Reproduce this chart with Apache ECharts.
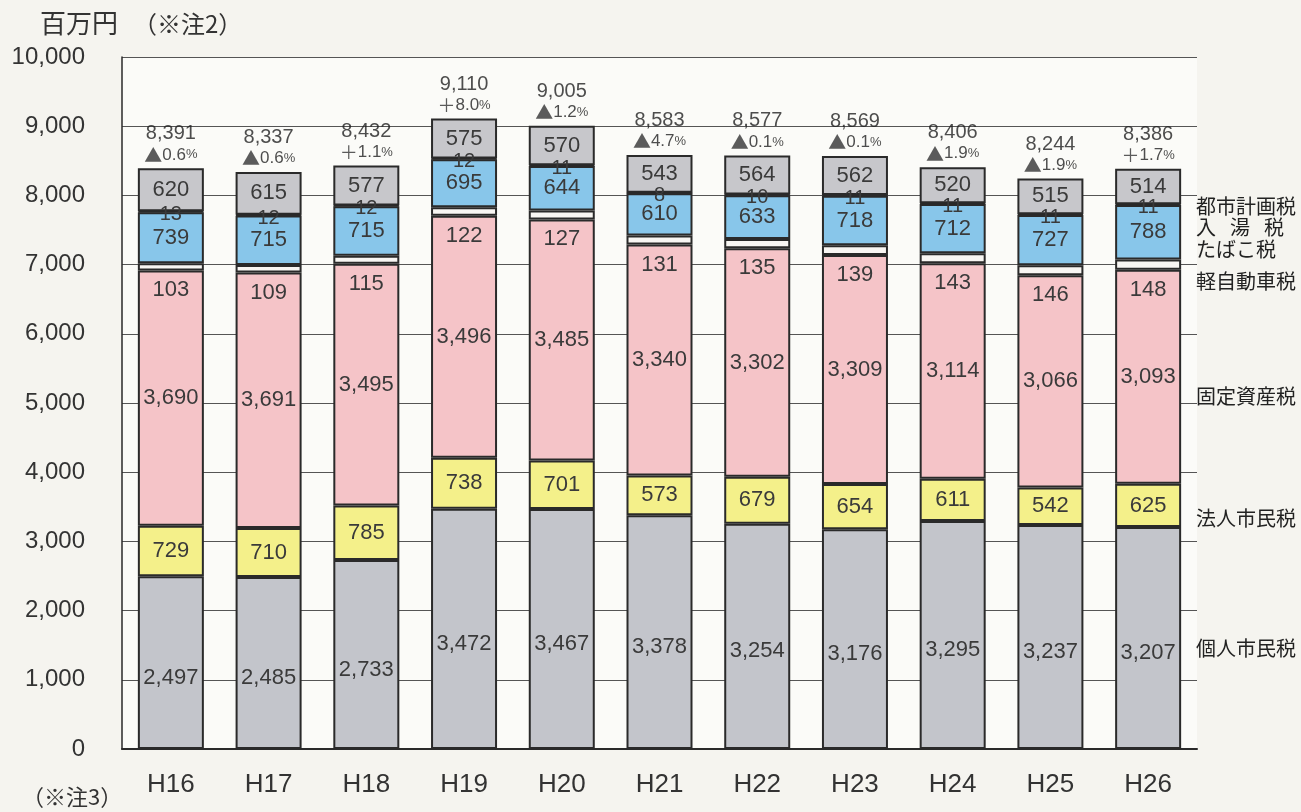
<!DOCTYPE html>
<html>
<head>
<meta charset="utf-8">
<script src="https://cdn.jsdelivr.net/npm/echarts@6/dist/echarts.min.js"></script>
<style>
html, body { margin: 0; padding: 0; background: #f5f4ef; }
#chart { width: 1301px; height: 812px; }
</style>
</head>
<body>
<div id="chart"></div>
<script>
// 年度
const years = ["H16", "H17", "H18", "H19", "H20", "H21", "H22", "H23", "H24", "H25", "H26"];
// 税目別（百万円）
const kojinShimin = [2497, 2485, 2733, 3472, 3467, 3378, 3254, 3176, 3295, 3237, 3207];
const hojinShimin = [729, 710, 785, 738, 701, 573, 679, 654, 611, 542, 625];
const koteiShisan = [3690, 3691, 3495, 3496, 3485, 3340, 3302, 3309, 3114, 3066, 3093];
const keiJidosha = [103, 109, 115, 122, 127, 131, 135, 139, 143, 146, 148];
const tabako = [739, 715, 715, 695, 644, 610, 633, 718, 712, 727, 788];
const nyuto = [13, 12, 12, 12, 11, 8, 10, 11, 11, 11, 11];
const toshiKeikaku = [620, 615, 577, 575, 570, 543, 564, 562, 520, 515, 514];
// 合計と前年比
const totals = [8391, 8337, 8432, 9110, 9005, 8583, 8577, 8569, 8406, 8244, 8386];
const changes = ["▲0.6", "▲0.6", "＋1.1", "＋8.0", "▲1.2", "▲4.7", "▲0.1", "▲0.1", "▲1.9", "▲1.9", "＋1.7"];
// 目盛り
const yTicks = [0, 1000, 2000, 3000, 4000, 5000, 6000, 7000, 8000, 9000, 10000];

const numFont = "Liberation Sans";
const jpFont = "Noto Sans CJK JP";
const fmt = (v) => Number(v).toLocaleString("en-US");

function seg(name, data, color, label) {
  return {
    name: name,
    type: "bar",
    stack: "tax",
    barWidth: 66,
    data: data,
    itemStyle: { color: color, borderColor: "#2a2a2a", borderWidth: 2 },
    label: Object.assign({
      show: true,
      position: "inside",
      color: "#3a3a3a",
      fontFamily: numFont,
      fontSize: 22,
      formatter: (p) => fmt(p.value),
    }, label || {}),
  };
}

// 右側の税目名
function sideLabel(text, top) {
  return { type: "text", left: 1196, top: top, style: { text: text, font: "20px '" + jpFont + "'", fill: "#222" } };
}

const chart = echarts.init(document.getElementById("chart"));
const option = {
  backgroundColor: "#f5f4ef",
  animation: false,
  grid: {
    left: 122, right: 104, top: 57, bottom: 63,
    show: true, backgroundColor: "#fbfbf8", borderWidth: 0,
  },
  xAxis: {
    type: "category",
    data: years,
    axisLine: { lineStyle: { color: "#2a2a2a", width: 2 } },
    axisTick: { inside: true, length: 6, lineStyle: { color: "#444" } },
    axisLabel: { color: "#333", fontSize: 26, fontFamily: numFont, margin: 23 },
  },
  yAxis: {
    type: "value",
    min: yTicks[0],
    max: yTicks[yTicks.length - 1],
    interval: yTicks[1] - yTicks[0],
    axisLine: { show: true, lineStyle: { color: "#2a2a2a", width: 1.5 } },
    axisTick: { show: false },
    axisLabel: { color: "#333", fontSize: 24, fontFamily: numFont, margin: 37, formatter: fmt },
    splitLine: { show: true, lineStyle: { color: "#555", width: 1.2 } },
  },
  series: [
    seg("個人市民税", kojinShimin, "#c3c5cb", { offset: [0, 15] }),
    seg("法人市民税", hojinShimin, "#f4f08a"),
    seg("固定資産税", koteiShisan, "#f5c4c8"),
    seg("軽自動車税", keiJidosha, "#f8f6f3", { position: "bottom", distance: 9 }),
    seg("たばこ税", tabako, "#88c6ea"),
    seg("入湯税", nyuto, "#333", { fontSize: 20, offset: [0, 3] }),
    seg("都市計画税", toshiKeikaku, "#c7c7cb"),
    {
      name: "合計",
      type: "scatter",
      data: totals,
      symbolSize: 1,
      itemStyle: { color: "transparent" },
      z: 10,
      label: {
        show: true,
        position: "top",
        distance: 3,
        formatter: (p) => {
          const c = changes[p.dataIndex];
          return "{t|" + fmt(p.value) + "}\n{s|" + c.charAt(0) + "}{v|" + c.slice(1) + "}{pc|%}";
        },
        rich: {
          t: { fontFamily: numFont, fontSize: 20, color: "#222", lineHeight: 22, align: "center" },
          s: { fontFamily: jpFont, fontSize: 18, color: "#333", lineHeight: 20 },
          v: { fontFamily: numFont, fontSize: 17, color: "#222", lineHeight: 20 },
          pc: { fontFamily: numFont, fontSize: 13, color: "#222", lineHeight: 20 },
        },
      },
    },
  ],
  graphic: [
    { type: "text", left: 40, top: 10, style: { text: "百万円", font: "26px '" + jpFont + "'", fill: "#333" } },
    { type: "text", left: 133, top: 12, style: { text: "（※注2）", font: "24px '" + jpFont + "'", fill: "#333" } },
    { type: "text", left: 22, top: 786, style: { text: "（※注3）", font: "22px '" + jpFont + "'", fill: "#333" } },
    sideLabel("都市計画税", 196),
    {
      type: "text", left: 1196, top: 217,
      style: {
        text: "{c|入}{g|\u3000}{c|湯}{g|\u3000}{c|税}",
        rich: {
          c: { fontFamily: jpFont, fontSize: 20, fill: "#222" },
          g: { fontFamily: jpFont, fontSize: 14 },
        },
      },
    },
    sideLabel("たばこ税", 239),
    sideLabel("軽自動車税", 271),
    sideLabel("固定資産税", 386),
    sideLabel("法人市民税", 508),
    sideLabel("個人市民税", 638),
  ],
};
chart.setOption(option);
</script>
</body>
</html>
